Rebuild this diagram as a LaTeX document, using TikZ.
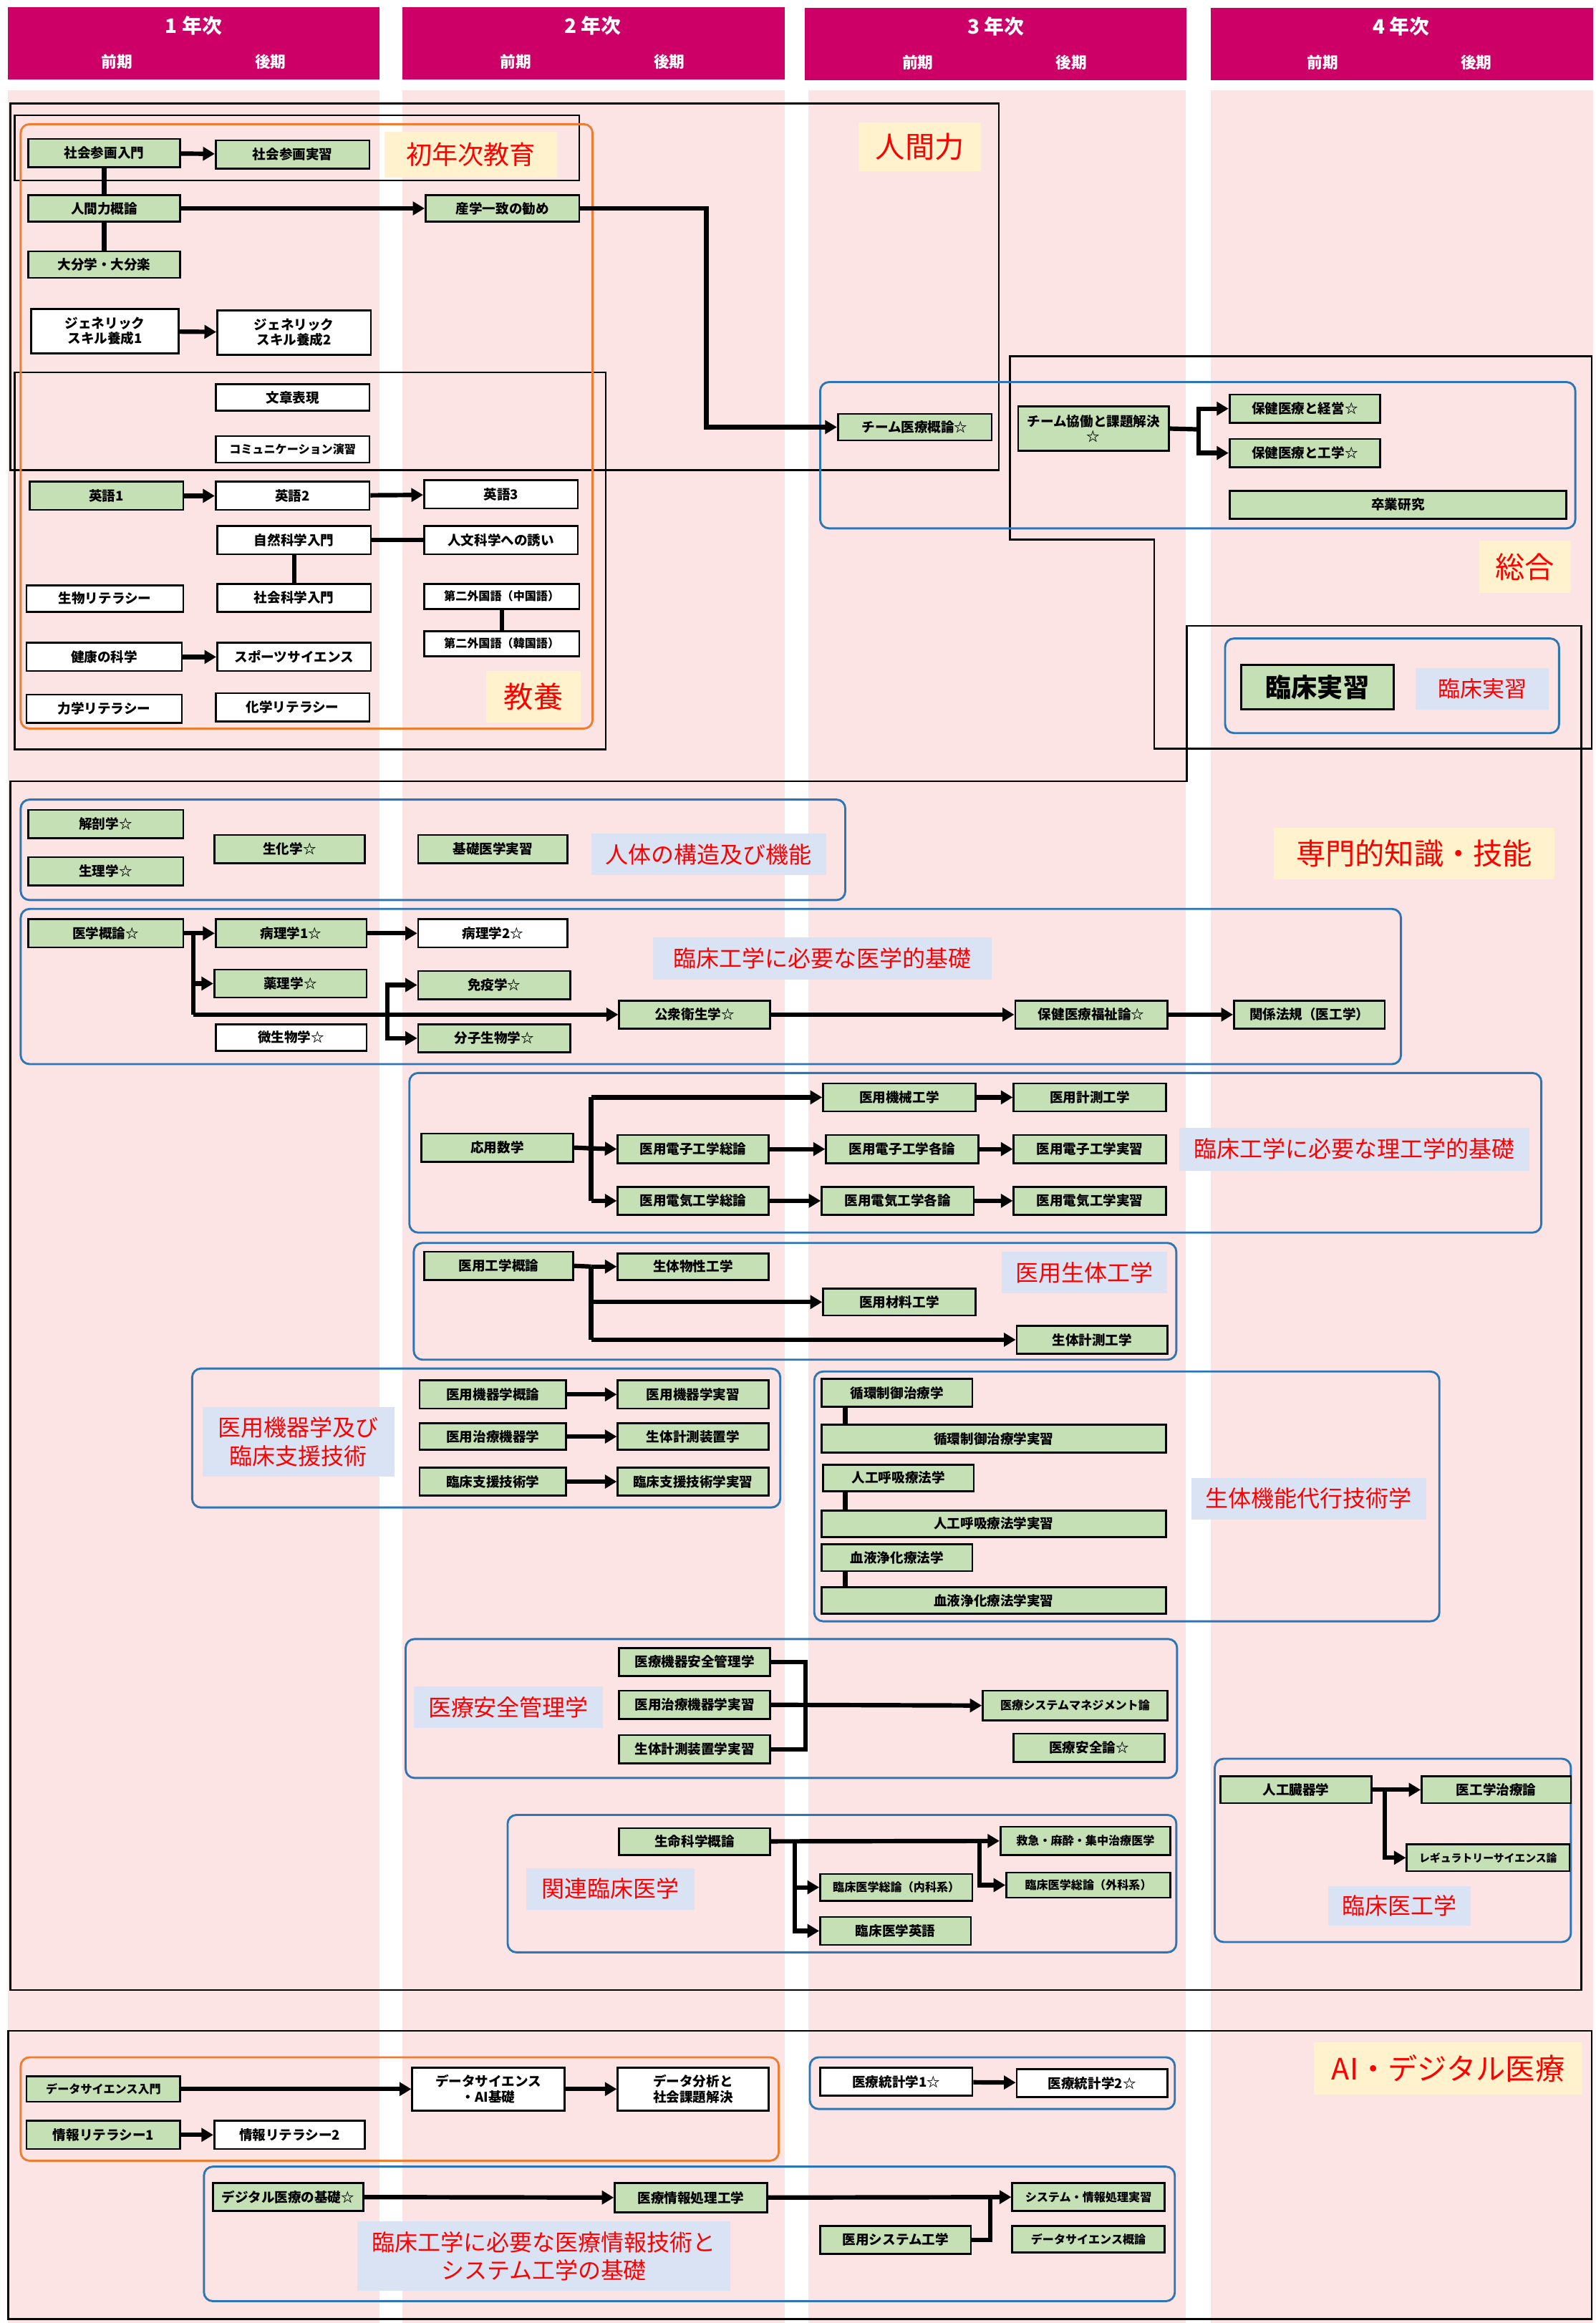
\documentclass[tikz,border=0pt]{standalone}
\usepackage{fontspec}
\setmainfont{Noto Sans CJK JP}
\usetikzlibrary{arrows.meta}
\definecolor{pinkbg}{RGB}{252,228,228}
\definecolor{hdr}{RGB}{204,0,102}
\definecolor{ngreen}{RGB}{197,224,180}
\definecolor{lblue}{RGB}{218,227,243}
\definecolor{lyellow}{RGB}{255,242,204}
\definecolor{bbord}{RGB}{46,117,182}
\definecolor{obord}{RGB}{237,125,49}
\newcommand\mkbox[7]{\node[#1, minimum width={(#5-#3)*1pt}, minimum height={(#6-#4)*1pt}] (#2) at ({(#3+#5)/2},{(#4+#6)/2}) {#7};}
\newcommand\nfa{\fontsize{9}{10.5}\selectfont\bfseries}
\newcommand\nfb{\fontsize{7.8}{9}\selectfont\bfseries}
\newcommand\nfc{\fontsize{7.2}{8}\selectfont\bfseries}
\begin{document}
\begin{tikzpicture}[x=1pt,y=-1pt,
  gb/.style={draw=black, line width=1.3pt, fill=ngreen, inner sep=0pt, align=center, font=\nfa},
  wb/.style={gb, fill=white},
  cat/.style={fill=lyellow, text=red, inner sep=0pt, align=center, font=\fontsize{20}{22}\selectfont},
  sub/.style={fill=lblue, text=red, inner sep=0pt, align=center, font=\fontsize{15.5}{19}\selectfont},
  bbox/.style={draw=bbord, line width=1.4pt, rounded corners=6pt},
  obox/.style={draw=obord, line width=1.4pt, rounded corners=6pt},
  kbox/.style={draw=black, line width=1.2pt},
  arr/.style={line width=3pt, -{Triangle[length=8pt,width=9pt]}},
  ln/.style={line width=3pt},
  htxt/.style={text=white, font=\fontsize{13.5}{15}\selectfont\bfseries},
  hsub/.style={text=white, font=\fontsize{10.5}{12}\selectfont\bfseries}]
\useasboundingbox (0,0) rectangle (1080,1571.8);
\fill[white] (0,0) rectangle (1080,1571.8);
% columns
\fill[pinkbg] (5.5,61) rectangle (257,1571.8);
\fill[pinkbg] (272.5,61) rectangle (531,1571.8);
\fill[pinkbg] (547,61) rectangle (802.5,1571.8);
\fill[pinkbg] (819.5,61) rectangle (1078,1571.8);
% headers
\fill[hdr] (5.5,5) rectangle (257,54);
\fill[hdr] (272.5,5) rectangle (531,54);
\fill[hdr] (544.5,5.5) rectangle (803,54.5);
\fill[hdr] (819.5,5.5) rectangle (1078,54.5);
\node[htxt] (y1) at (131,17.5) {1 年次};
\node[htxt] (y2) at (401,17.5) {2 年次};
\node[htxt] (y3) at (674,18) {3 年次};
\node[htxt] (y4) at (948,18) {4 年次};
\node[hsub] (p1a) at (79,42) {前期};
\node[hsub] (p1b) at (183,42) {後期};
\node[hsub] (p2a) at (349,42) {前期};
\node[hsub] (p2b) at (453,42) {後期};
\node[hsub] (p3a) at (621,42.5) {前期};
\node[hsub] (p3b) at (725,42.5) {後期};
\node[hsub] (p4a) at (895,42.5) {前期};
\node[hsub] (p4b) at (999,42.5) {後期};
% black frames
\draw[kbox] (7,70) rectangle (676,318);
\draw[kbox] (10,78) rectangle (392,122);
\draw[kbox] (10,252) rectangle (410,507);
\draw[kbox] (683.5,241) -- (1077,241) -- (1077,506.5) -- (781,506.5) -- (781,365) -- (683.5,365) -- cycle;
\draw[kbox] (7,528.5) -- (803,528.5) -- (803,423.5) -- (1070,423.5) -- (1070,1346.5) -- (7,1346.5) -- cycle;
\draw[kbox] (5.5,1374) rectangle (1077,1569);
% coloured frames
\draw[obox] (14,84) rectangle (401,493);
\draw[obox] (14,1392) rectangle (527,1462);
\draw[bbox] (555,258.5) rectangle (1066,357.5);
\draw[bbox] (829,432) rectangle (1055,496);
\draw[bbox] (14,541) rectangle (572,609);
\draw[bbox] (14,615) rectangle (948,720);
\draw[bbox] (277,726) rectangle (1043,834);
\draw[bbox] (280,841) rectangle (796,920);
\draw[bbox] (130,926) rectangle (528,1020);
\draw[bbox] (551,928) rectangle (974,1097);
\draw[bbox] (274.5,1109) rectangle (796.5,1203);
\draw[bbox] (343.5,1228) rectangle (796,1321);
\draw[bbox] (822,1190) rectangle (1063,1314);
\draw[bbox] (548,1392) rectangle (795,1427);
\draw[bbox] (138,1466) rectangle (795,1557);
% labels
\mkbox{cat, font=\fontsize{17.5}{20}\selectfont}{L1}{260}{89}{377}{120}{初年次教育}
\mkbox{cat}{L2}{581}{83}{664}{116}{人間力}
\mkbox{cat}{L3}{329}{454}{393}{489}{教養}
\mkbox{cat}{L4}{1001}{366}{1063}{401}{総合}
\mkbox{cat}{L5}{862}{560}{1052}{595}{専門的知識・技能}
\mkbox{cat}{L6}{889}{1382}{1071}{1417}{AI・デジタル医療}
\mkbox{sub, font=\fontsize{15}{18}\selectfont}{S1}{958}{452}{1048}{480}{臨床実習}
\mkbox{sub}{S2}{400}{564}{559}{592}{人体の構造及び機能}
\mkbox{sub}{S3}{442}{634}{671}{663}{臨床工学に必要な医学的基礎}
\mkbox{sub}{S4}{798}{763}{1035}{792}{臨床工学に必要な理工学的基礎}
\mkbox{sub}{S5}{678}{847}{790}{875}{医用生体工学}
\mkbox{sub}{S6}{137}{952}{267}{999}{医用機器学及び\\臨床支援技術}
\mkbox{sub}{S7}{806}{1000}{965}{1028}{生体機能代行技術学}
\mkbox{sub}{S8}{280}{1141}{408}{1169}{医療安全管理学}
\mkbox{sub}{S9}{356}{1264}{470}{1292}{関連臨床医学}
\mkbox{sub}{S10}{899}{1276}{995}{1303}{臨床医工学}
\mkbox{sub}{S11}{242}{1503}{494}{1550}{臨床工学に必要な医療情報技術と\\システム工学の基礎}
% nodes: first-year / general
\mkbox{gb}{a1}{19}{94}{122}{113}{社会参画入門}
\mkbox{gb}{a2}{146}{95}{250}{114}{社会参画実習}
\mkbox{gb}{a3}{19}{132}{122}{150}{人間力概論}
\mkbox{gb}{a4}{288}{132}{392}{150}{産学一致の勧め}
\mkbox{gb}{a5}{19}{170}{122}{188}{大分学・大分楽}
\mkbox{wb}{a6}{21}{209}{121}{239}{ジェネリック\\スキル養成1}
\mkbox{wb}{a7}{147}{210}{251}{240}{ジェネリック\\スキル養成2}
\mkbox{wb}{a8}{146}{260}{250}{278}{文章表現}
\mkbox{wb, font=\nfb}{a9}{146}{295}{250}{313}{コミュニケーション演習}
\mkbox{gb}{e1}{20}{326}{124}{345}{英語1}
\mkbox{wb}{e2}{146}{326}{250}{345}{英語2}
\mkbox{wb}{e3}{287}{325}{391}{344}{英語3}
\mkbox{wb}{k1}{147}{356}{251}{375}{自然科学入門}
\mkbox{wb}{k2}{287}{356}{391}{375}{人文科学への誘い}
\mkbox{wb}{k3}{18}{396}{124}{414}{生物リテラシー}
\mkbox{wb}{k4}{147}{395}{251}{414}{社会科学入門}
\mkbox{wb, font=\nfb}{k5}{287}{395}{392}{412}{第二外国語（中国語）}
\mkbox{wb, font=\nfb}{k6}{287}{427}{392}{444}{第二外国語（韓国語）}
\mkbox{wb}{k7}{18}{435}{123}{454}{健康の科学}
\mkbox{wb}{k8}{147}{435}{251}{454}{スポーツサイエンス}
\mkbox{wb}{k9}{18}{470}{123}{489}{力学リテラシー}
\mkbox{wb}{k10}{146}{469}{250}{488}{化学リテラシー}
% 3rd-4th year integrated
\mkbox{gb}{t1}{567}{280}{671}{298}{チーム医療概論☆}
\mkbox{gb}{t2}{689}{275}{791}{305}{チーム協働と課題解決\\☆}
\mkbox{gb}{t3}{832}{267}{934}{286}{保健医療と経営☆}
\mkbox{gb}{t4}{832}{297}{934}{316}{保健医療と工学☆}
\mkbox{gb}{t5}{832}{332}{1060}{351}{卒業研究}
\mkbox{gb, font=\fontsize{17.5}{20}\selectfont\bfseries}{t6}{840}{450}{943}{480}{臨床実習}
% specialised
\mkbox{gb}{m1}{19}{548}{124}{567}{解剖学☆}
\mkbox{gb}{m2}{19}{580}{124}{599}{生理学☆}
\mkbox{gb}{m3}{145}{565}{247}{584}{生化学☆}
\mkbox{gb}{m4}{283}{565}{384}{584}{基礎医学実習}
\mkbox{gb}{b1}{19}{622}{124}{641}{医学概論☆}
\mkbox{gb}{b2}{146}{622}{248}{641}{病理学1☆}
\mkbox{wb}{b3}{283}{622}{384}{641}{病理学2☆}
\mkbox{gb}{b4}{145}{656}{248}{675}{薬理学☆}
\mkbox{gb}{b5}{283}{657}{386}{676}{免疫学☆}
\mkbox{wb}{b6}{146}{693}{248}{711}{微生物学☆}
\mkbox{gb}{b7}{283}{693}{386}{712}{分子生物学☆}
\mkbox{gb}{b8}{419}{677}{521}{696}{公衆衛生学☆}
\mkbox{gb}{b9}{687}{677}{790}{696}{保健医療福祉論☆}
\mkbox{gb}{b10}{835}{677}{937}{696}{関係法規（医工学）}
\mkbox{gb}{r1}{285}{767}{388}{786}{応用数学}
\mkbox{gb}{r2}{418}{768}{520}{787}{医用電子工学総論}
\mkbox{gb}{r3}{418}{803}{520}{822}{医用電気工学総論}
\mkbox{gb}{r4}{557}{733}{660}{752}{医用機械工学}
\mkbox{gb}{r5}{686}{733}{789}{752}{医用計測工学}
\mkbox{gb}{r6}{559}{768}{662}{787}{医用電子工学各論}
\mkbox{gb}{r7}{686}{768}{789}{787}{医用電子工学実習}
\mkbox{gb}{r8}{556}{803}{659}{822}{医用電気工学各論}
\mkbox{gb}{r9}{686}{803}{789}{822}{医用電気工学実習}
\mkbox{gb}{s1}{287}{847}{388}{866}{医用工学概論}
\mkbox{gb}{s2}{418}{848}{520}{866}{生体物性工学}
\mkbox{gb}{s3}{557}{872}{660}{890}{医用材料工学}
\mkbox{gb}{s4}{688}{897}{790}{916}{生体計測工学}
\mkbox{gb}{d1}{284}{934}{383}{953}{医用機器学概論}
\mkbox{gb}{d2}{418}{934}{520}{953}{医用機器学実習}
\mkbox{gb}{d3}{284}{963}{383}{981}{医用治療機器学}
\mkbox{gb}{d4}{418}{963}{520}{981}{生体計測装置学}
\mkbox{gb}{d5}{284}{993}{383}{1012}{臨床支援技術学}
\mkbox{gb}{d6}{418}{993}{520}{1012}{臨床支援技術学実習}
\mkbox{gb}{f1}{556}{933}{658}{952}{循環制御治療学}
\mkbox{gb}{f2}{556}{964}{789}{983}{循環制御治療学実習}
\mkbox{gb}{f3}{557}{991}{659}{1009}{人工呼吸療法学}
\mkbox{gb}{f4}{556}{1022}{789}{1040}{人工呼吸療法学実習}
\mkbox{gb}{f5}{556}{1045}{658}{1063}{血液浄化療法学}
\mkbox{gb}{f6}{556}{1074}{789}{1092}{血液浄化療法学実習}
\mkbox{gb}{g1}{419}{1115}{521}{1134}{医療機器安全管理学}
\mkbox{gb}{g2}{419}{1144}{521}{1163}{医用治療機器学実習}
\mkbox{gb}{g3}{419}{1174}{521}{1193}{生体計測装置学実習}
\mkbox{gb, font=\nfb}{g4}{665}{1144}{790}{1164}{医療システムマネジメント論}
\mkbox{gb}{g5}{686}{1173}{788}{1192}{医療安全論☆}
\mkbox{gb}{h1}{419}{1237}{521}{1255}{生命科学概論}
\mkbox{gb, font=\nfb}{h2}{677}{1236}{792}{1255}{救急・麻酔・集中治療医学}
\mkbox{gb, font=\nfb}{h3}{555}{1268}{658}{1286}{臨床医学総論（内科系）}
\mkbox{gb, font=\nfb}{h4}{681}{1267}{792}{1284}{臨床医学総論（外科系）}
\mkbox{gb}{h5}{555}{1297}{657}{1316}{臨床医学英語}
\mkbox{gb}{q1}{826}{1202}{928}{1220}{人工臓器学}
\mkbox{gb}{q2}{962}{1202}{1063}{1220}{医工学治療論}
\mkbox{gb, font=\nfc}{q3}{952}{1248}{1062}{1266}{レギュラトリーサイエンス論}
% AI / digital
\mkbox{gb, font=\nfb}{x1}{18}{1405}{122}{1422}{データサイエンス入門}
\mkbox{wb}{x2}{279}{1399}{382}{1428}{データサイエンス\\・AI基礎}
\mkbox{wb}{x3}{418}{1399}{520}{1428}{データ分析と\\社会課題解決}
\mkbox{gb}{x4}{18}{1435}{122}{1454}{情報リテラシー1}
\mkbox{wb}{x5}{145}{1435}{247}{1454}{情報リテラシー2}
\mkbox{wb}{x6}{555}{1399}{658}{1418}{医療統計学1☆}
\mkbox{wb}{x7}{688}{1400}{790}{1419}{医療統計学2☆}
\mkbox{gb}{x8}{144}{1477}{246}{1496}{デジタル医療の基礎☆}
\mkbox{gb}{x9}{416}{1477}{519}{1497}{医療情報処理工学}
\mkbox{gb, font=\nfb}{x10}{685}{1477}{788}{1496}{システム・情報処理実習}
\mkbox{gb, font=\nfb}{x11}{685}{1506}{788}{1524}{データサイエンス概論}
\mkbox{gb}{x12}{555}{1506}{657}{1525}{医用システム工学}
% junction coordinates
\coordinate (j1) at (478,141);
\coordinate (j2) at (811,290.5);
\coordinate (j3) at (131,631.5);
\coordinate (j4) at (131,665.5);
\coordinate (j5) at (131,686.5);
\coordinate (j6) at (262,686.5);
\coordinate (j7) at (400,742.5);
\coordinate (j8) at (400,777);
\coordinate (j9) at (400,812.5);
\coordinate (j10) at (400,857);
\coordinate (j11) at (400,881);
\coordinate (j12) at (400,906.5);
\coordinate (j13) at (545,1124.5);
\coordinate (j14) at (545,1183.5);
\coordinate (j15) at (545,1153.5);
\coordinate (j16) at (538,1246);
\coordinate (j17) at (663,1246);
\coordinate (j18) at (937,1211);
\coordinate (j19) at (670,1487);
% connectors
\draw[arr] (a1) -- (a2);
\draw[ln] (a1) -- (a3);
\draw[ln] (a3) -- (a5);
\draw[arr] (a3) -- (a4);
\draw[arr] (a4.east) -- (j1) |- (t1.west);
\draw[arr] (a6) -- (a7);
\draw[arr] (e1) -- (e2);
\draw[arr] (e2) -- (e3);
\draw[ln] (k1) -- (k2);
\draw[ln] (k1) -- (k4);
\draw[ln] (k5) -- (k6);
\draw[arr] (k7) -- (k8);
\draw[ln] (t2.east) -- (j2);
\draw[arr] (j2) |- (t3.west);
\draw[arr] (j2) |- (t4.west);
\draw[arr] (b1) -- (b2);
\draw[arr] (b2) -- (b3);
\draw[ln] (j3) -- (j5);
\draw[arr] (j4) -- (b4.west);
\draw[arr] (j5) -- (b8.west);
\draw[arr] (j6) |- (b5.west);
\draw[arr] (j6) |- (b7.west);
\draw[arr] (b8) -- (b9);
\draw[arr] (b9) -- (b10);
\draw[ln] (r1.east) -- (j8);
\draw[ln] (j7) -- (j9);
\draw[arr] (j7) -- (r4.west);
\draw[arr] (j8) -- (r2.west);
\draw[arr] (j9) -- (r3.west);
\draw[arr] (r4) -- (r5);
\draw[arr] (r2) -- (r6);
\draw[arr] (r6) -- (r7);
\draw[arr] (r3) -- (r8);
\draw[arr] (r8) -- (r9);
\draw[ln] (s1.east) -- (j10);
\draw[ln] (j10) -- (j12);
\draw[arr] (j10) -- (s2.west);
\draw[arr] (j11) -- (s3.west);
\draw[arr] (j12) -- (s4.west);
\draw[arr] (d1) -- (d2);
\draw[arr] (d3) -- (d4);
\draw[arr] (d5) -- (d6);
\draw[ln] (f1.south -| 572,0) -- (f2.north -| 572,0);
\draw[ln] (f3.south -| 572,0) -- (f4.north -| 572,0);
\draw[ln] (f5.south -| 572,0) -- (f6.north -| 572,0);
\draw[ln] (g1.east) -- (j13) -- (j14) -- (g3.east);
\draw[arr] (g2.east) -- (g4.west);
\draw[arr] (h1) -- (h2);
\draw[arr] (j16) |- (h3.west);
\draw[arr] (j16) |- (h5.west);
\draw[arr] (j17) |- (h4.west);
\draw[arr] (q1) -- (q2);
\draw[arr] (j18) |- (q3.west);
\draw[arr] (x1) -- (x2);
\draw[arr] (x2) -- (x3);
\draw[arr] (x4) -- (x5);
\draw[arr] (x6) -- (x7);
\draw[arr] (x8) -- (x9);
\draw[arr] (x9) -- (x10);
\draw[ln] (x12.east) -| (j19);
\end{tikzpicture}
\end{document}
